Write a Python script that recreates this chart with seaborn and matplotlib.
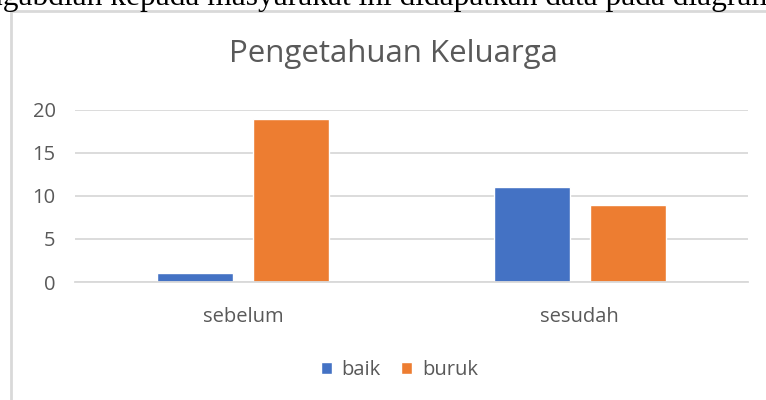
import pandas as pd
import matplotlib
matplotlib.use("Agg")
import matplotlib.pyplot as plt
import seaborn as sns

# data
kategori = ['sebelum', 'sesudah']
baik = [1, 11]
buruk = [19, 9]
seri = ['baik', 'buruk']
warna = ['#4472C4', '#ED7D31']
yticks = [0, 5, 10, 15, 20]

df = pd.DataFrame({
    'kategori': kategori * 2,
    'nilai': baik + buruk,
    'seri': [seri[0]] * len(kategori) + [seri[1]] * len(kategori),
})

sns.set_theme(style='white')
plt.rcParams['font.family'] = ['Open Sans', 'DejaVu Sans']

fig = plt.figure(figsize=(7.66, 4.0), dpi=100)
ax = fig.add_axes([75 / 766, 1 - 282 / 400, 673 / 766, 172 / 400])

sns.barplot(data=df, x='kategori', y='nilai', hue='seri', palette=warna,
            saturation=1, width=0.571, gap=0.208, ax=ax, legend=True)

ax.set_xlim(-0.5, 1.5)
ax.set_ylim(0, 20)
ax.set_yticks(yticks)
ax.yaxis.grid(True, color='#d9d9d9', linewidth=1.3)
ax.set_axisbelow(True)
for s in ['top', 'right', 'left']:
    ax.spines[s].set_visible(False)
ax.spines['bottom'].set_color('#d9d9d9')
ax.spines['bottom'].set_linewidth(1.3)
ax.tick_params(axis='both', length=0, labelsize=14.5, labelcolor='#595959')
ax.tick_params(axis='y', pad=14)
ax.tick_params(axis='x', pad=18)
ax.set_xlabel('')
ax.set_ylabel('')

# judul di tengah area chart
fig.text(393 / 766, 1 - 62 / 400, 'Pengetahuan Keluarga', fontsize=22.5, color='#595959',
         ha='center', va='baseline')

ax.legend(loc='upper center', bbox_to_anchor=(0.482, -0.35), ncol=2, frameon=False,
          fontsize=14.5, labelcolor='#595959', handlelength=0.55, handleheight=0.55,
          handletextpad=0.5, columnspacing=1.0)

# chart border
fig.add_artist(plt.Line2D([11 / 766, 11 / 766], [0, 1 - 11 / 400], color='#d9d9d9', linewidth=2))
fig.add_artist(plt.Line2D([11 / 766, 1], [1 - 11 / 400, 1 - 11 / 400], color='#d9d9d9', linewidth=2))

# potongan teks dokumen di atas
fig.text(-13 / 766, 1 - 5 / 400, 'ngabdian kepada masyarakat ini didapatkan data pada diagram',
         family='Liberation Serif', fontsize=22.7, color='black', va='baseline', ha='left')

fig.savefig('out.png', dpi=100)
